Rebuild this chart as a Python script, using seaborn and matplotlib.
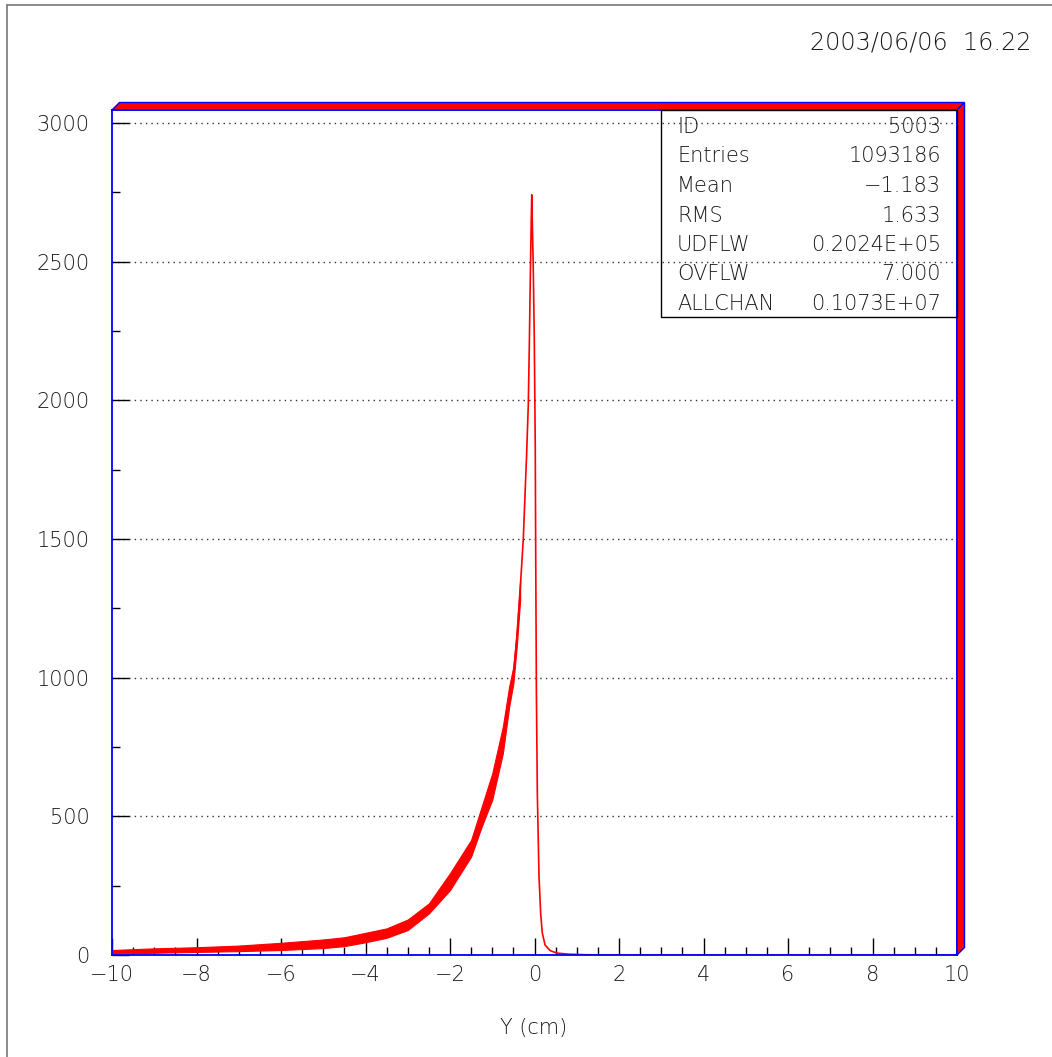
import numpy as np
import pandas as pd
import matplotlib
matplotlib.use("Agg")
import matplotlib.pyplot as plt
import seaborn as sns
from matplotlib.patches import Polygon, Rectangle
from matplotlib.lines import Line2D
from matplotlib.ticker import MultipleLocator

# ---------------- data ----------------
CURVE_Y_CM = [-10, -9, -8, -7, -6, -5, -4.5, -4, -3.5, -3, -2.5, -2, -1.5, -1.25,
              -1, -0.75, -0.6, -0.5, -0.42, -0.34, -0.265, -0.226, -0.187, -0.147,
              -0.123, -0.1, -0.077, -0.065, -0.053, -0.029, -0.005, 0.018, 0.03,
              0.045, 0.067, 0.107, 0.146, 0.185, 0.25, 0.37, 0.525, 0.8, 1.2, 2, 10]
CURVE_COUNTS = [12, 16, 19, 24, 31, 40, 48, 63, 78, 110, 168, 264, 385, 499,
                607, 775, 930, 1010, 1142, 1316, 1500, 1653, 1803, 1983,
                2194, 2434, 2650, 2741, 2650, 2475, 2223, 1833, 1400,
                945, 583, 282, 150, 79, 36, 16, 7, 3, 1, 0, 0]

# noise band (lowest / highest bin contents seen around each position)
BAND_Y_CM = [-10, -9, -8, -7, -6, -5, -4.5, -4, -3.5, -3, -2.5, -2, -1.5, -1.25,
             -1, -0.75, -0.6, -0.5, -0.42, -0.34]
BAND_LO = [5, 8, 11, 14, 18, 25, 32, 46, 62, 90, 150, 234, 355, 463,
           560, 727, 895, 980, 1112, 1280]
BAND_HI = [18, 24, 28, 34, 44, 56, 64, 80, 96, 128, 186, 295, 415, 535,
           655, 823, 968, 1040, 1172, 1352]

X_TICKS = [-10, -8, -6, -4, -2, 0, 2, 4, 6, 8, 10]
Y_TICKS = [0, 500, 1000, 1500, 2000, 2500, 3000]
STAT_LABELS = ["ID", "Entries", "Mean", "RMS", "UDFLW", "OVFLW", "ALLCHAN"]
STAT_VALUES = ["5003", "1093186", "\u22121.183", "1.633", "0.2024E+05", "7.000", "0.1073E+07"]
DATE_TEXT = "2003/06/06  16.22"
X_LABEL = "Y (cm)"

# ---------------- style ----------------
sns.set_theme(style="white")
plt.rcParams['font.family'] = ['DejaVu Sans']
plt.rcParams['font.weight'] = 'light'
plt.rcParams['axes.unicode_minus'] = True

TXT = "#1a1a1a"
W, H = 1052, 1057
fig = plt.figure(figsize=(W / 100, H / 100), dpi=100)
fig.patch.set_facecolor("white")

L, R, B, T = 112, 957, 955, 110   # pixel box of the plot frame
ax = fig.add_axes([L / W, 1 - B / H, (R - L) / W, (B - T) / H])
ax.set_facecolor("white")

def fx(px):
    return px / W

def fy(py):
    return 1 - py / H

# ---------------- data marks ----------------
ax.fill_between(BAND_Y_CM, BAND_LO, BAND_HI, color="red", lw=0.8, edgecolor="red", zorder=2)
df = pd.DataFrame({"y_cm": CURVE_Y_CM, "counts": CURVE_COUNTS})
sns.lineplot(data=df, x="y_cm", y="counts", color="red", lw=1.2,
             estimator=None, sort=False, ax=ax, zorder=2)

ax.set_xlim(-10, 10)
ax.set_ylim(0, 3047)
ax.set_xticks(X_TICKS)
ax.set_yticks(Y_TICKS)
ax.xaxis.set_minor_locator(MultipleLocator(0.5))
ax.yaxis.set_minor_locator(MultipleLocator(250))
ax.set_xlabel("")
ax.set_ylabel("")

ax.tick_params(axis="both", which="major", direction="in", length=12, width=1,
               color="black", labelsize=15, labelcolor=TXT)
ax.tick_params(axis="both", which="minor", direction="in", length=6, width=1,
               color="black")
ax.tick_params(axis="x", which="major", pad=7)
ax.tick_params(axis="y", which="major", pad=16)
ax.tick_params(bottom=True, left=True, top=False, right=False, which="both")

ax.yaxis.grid(True, linestyle=(0, (1, 3)), color="#333333", lw=1)
ax.xaxis.grid(False)
ax.set_axisbelow(True)

for s in ax.spines.values():
    s.set_color("blue")
    s.set_linewidth(1.3)
    s.set_visible(True)

# 3D-like frame (top and right red bands)
d = 7.5
top_poly = [(fx(L), fy(T)), (fx(L + d), fy(T - d)), (fx(R + d), fy(T - d)), (fx(R), fy(T))]
right_poly = [(fx(R), fy(T)), (fx(R + d), fy(T - d)), (fx(R + d), fy(B - d)), (fx(R), fy(B))]
for poly in (top_poly, right_poly):
    fig.add_artist(Polygon(poly, closed=True, facecolor="red", edgecolor="blue",
                           lw=1.0, transform=fig.transFigure, zorder=5))

# statistics box
box_l, box_r, box_t, box_b = 661, 956.5, 110, 317
fig.add_artist(Rectangle((fx(box_l), fy(box_b)), fx(box_r) - fx(box_l), fy(box_t) - fy(box_b),
                         fill=False, edgecolor="black", lw=1.0,
                         transform=fig.transFigure, zorder=6))
baselines = [133, 162.5, 192, 221.5, 251, 280.5, 310]
for lab, val, yb in zip(STAT_LABELS, STAT_VALUES, baselines):
    fig.text(fx(677), fy(yb), lab, ha="left", va="baseline", fontsize=15, color=TXT)
    fig.text(fx(941), fy(yb), val, ha="right", va="baseline", fontsize=15, color=TXT)

# axis title and date
fig.text(fx(534), fy(1034), X_LABEL, ha="center", va="baseline", fontsize=15, color=TXT)
fig.text(fx(1031), fy(49), DATE_TEXT, ha="right", va="baseline", fontsize=17.2, color=TXT)

# page border lines
fig.add_artist(Line2D([fx(6.5), fx(6.5)], [0, fy(4.5)], color="#777777", lw=1.2,
                      transform=fig.transFigure))
fig.add_artist(Line2D([fx(6.5), 1], [fy(4.5), fy(4.5)], color="#777777", lw=1.2,
                      transform=fig.transFigure))

fig.savefig("out.png", dpi=100, facecolor="white")
